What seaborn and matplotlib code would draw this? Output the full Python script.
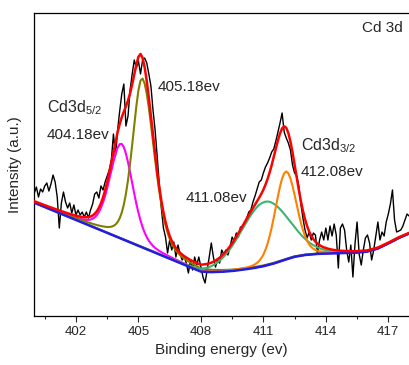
import numpy as np
import pandas as pd
import matplotlib
matplotlib.use("Agg")
import matplotlib.pyplot as plt
from matplotlib.ticker import MultipleLocator
import seaborn as sns

# Binding-energy grid of the scan (eV), 0.1 eV step
energy = np.round(np.arange(400.0, 418.05, 0.1), 1)

# Measured Cd 3d intensity (a.u.), one value per grid point
counts = [
    123, 129, 119, 127, 124, 130, 133, 125, 132, 141,   # 400.0-400.9
    134, 119, 88, 113, 124, 114, 108, 113, 103, 111,    # 401
    101, 106, 101, 104, 99, 104, 98, 106, 112, 122,     # 402
    124, 118, 130, 126, 134, 140, 146, 156, 182, 160,   # 403
    186, 205, 222, 232, 190, 200, 226, 242, 256, 248,   # 404
    255, 242, 256, 258, 253, 242, 230, 206, 186, 160,   # 405
    132, 108, 88, 79, 63, 76, 66, 74, 59, 71,           # 406
    62, 56, 59, 53, 43, 56, 46, 59, 51, 59,             # 407
    49, 39, 33, 46, 59, 73, 59, 49, 56, 53,             # 408
    66, 62, 66, 61, 69, 79, 75, 83, 79, 89,             # 409
    88, 93, 98, 104, 106, 114, 120, 127, 134, 136,      # 410
    143, 149, 153, 158, 164, 167, 175, 184, 193, 203,   # 411
    184, 178, 173, 166, 151, 143, 140, 130, 112, 98,    # 412
    86, 78, 84, 76, 83, 81, 62, 76, 84, 76,             # 413
    88, 76, 90, 80, 92, 81, 48, 88, 92, 86,             # 414
    66, 54, 71, 39, 72, 94, 62, 51, 66, 78,             # 415
    81, 73, 56, 66, 80, 94, 76, 84, 80, 94,             # 416
    102, 112, 126, 96, 84, 85, 86, 90, 96, 102,         # 417
    100,                                                # 418.0
]

# Background (linear + step) anchor points
bg_energy = [400.0, 408.0, 408.5, 409.0, 409.5, 410.0, 410.5, 411.0, 411.5,
             412.0, 412.5, 413.0, 413.5, 414.0, 415.0, 415.5, 416.0, 416.5,
             417.0, 417.5, 418.0]
bg_level = [113.3, 44.4, 43.9, 44.2, 45.0, 46.3, 47.8, 49.8, 52.5,
            56.0, 59.2, 61.0, 62.0, 62.5, 63.0, 63.4, 64.5, 67.5,
            72.5, 78.0, 82.5]

# Fitted components (pseudo-Voigt)
peak_center = [404.18, 405.18, 411.08, 412.08]
peak_height = [95, 169, 64, 88]
peak_fwhm_low = [1.3, 1.1, 2.7, 1.2]
peak_fwhm_high = [1.3, 1.35, 2.7, 1.2]
peak_lorentz = [0.3, 0.35, 0.1, 0.2]
peak_colors = ["#ff00ff", "#808000", "#3cb371", "#ff8000"]


def pseudo_voigt(x, center, height, w_low, w_high, eta):
    w = np.where(x < center, w_low, w_high)
    d2 = (x - center) ** 2 / w ** 2
    return height * ((1 - eta) * np.exp(-4 * np.log(2) * d2) + eta / (1 + 4 * d2))


background = np.interp(energy, bg_energy, bg_level)
components = [pseudo_voigt(energy, c, h, wl, wh, e)
              for c, h, wl, wh, e in zip(peak_center, peak_height,
                                         peak_fwhm_low, peak_fwhm_high,
                                         peak_lorentz)]
envelope = background + np.sum(components, axis=0)

sns.set_style("ticks")
plt.rcParams["font.family"] = ["Liberation Sans", "DejaVu Sans"]
plt.rcParams["mathtext.default"] = "regular"

fig = plt.figure(figsize=(4.09, 3.65), dpi=100)
ax = fig.add_axes([0.0839, 0.1342, 0.9164, 0.8293])

df = pd.DataFrame({"energy": energy, "counts": counts})
sns.lineplot(data=df, x="energy", y="counts", color="black", lw=1.0,
             sort=False, estimator=None, ax=ax, zorder=2)
for comp, col in zip(components, peak_colors):
    sns.lineplot(x=energy, y=background + comp, color=col, lw=1.5,
                 sort=False, estimator=None, ax=ax, zorder=3)
sns.lineplot(x=energy, y=background, color="#1e1ee6", lw=1.8,
             sort=False, estimator=None, ax=ax, zorder=4)
sns.lineplot(x=energy, y=envelope, color="#ff0000", lw=1.8,
             sort=False, estimator=None, ax=ax, zorder=5)

ax.set_xlim(400, 418)
ax.set_ylim(0, 302.7)
ax.set_yticks([])
ax.xaxis.set_minor_locator(MultipleLocator(1.5))
ax.set_xticks([402, 405, 408, 411, 414, 417])
ax.tick_params(axis="x", which="major", direction="out", length=4,
               width=0.8, labelsize=9.5, pad=3.5)
ax.tick_params(axis="x", which="minor", direction="out", length=2.4,
               width=0.8)
for side in ["top", "left", "bottom"]:
    ax.spines[side].set_linewidth(0.9)
    ax.spines[side].set_color("black")
ax.spines["right"].set_visible(False)

ax.set_xlabel("Binding energy (ev)", fontsize=11, labelpad=3)
ax.set_ylabel("Intensity (a.u.)", fontsize=11, labelpad=9)

ax.text(417.69, 284, "Cd 3d", fontsize=11, ha="right", va="baseline")
ax.text(400.6, 204, "Cd3d$_{5/2}$", fontsize=11.5, ha="left", va="baseline")
ax.text(400.6, 177, "404.18ev", fontsize=11, ha="left", va="baseline")
ax.text(405.9, 225, "405.18ev", fontsize=11, ha="left", va="baseline")
ax.text(407.26, 114, "411.08ev", fontsize=11, ha="left", va="baseline")
ax.text(412.8, 166, "Cd3d$_{3/2}$", fontsize=11.5, ha="left", va="baseline")
ax.text(412.8, 140, "412.08ev", fontsize=11, ha="left", va="baseline")

fig.savefig("out.png", dpi=100)
